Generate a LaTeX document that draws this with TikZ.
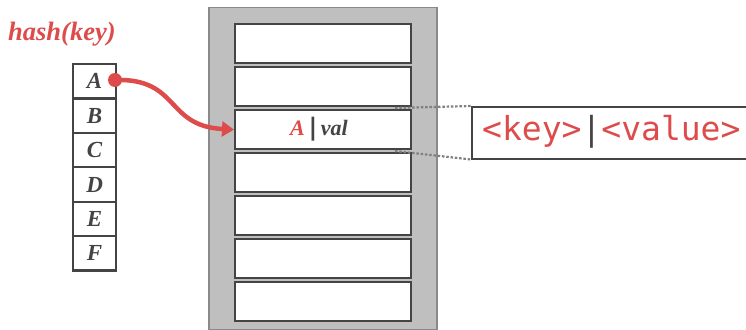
\documentclass[tikz,border=0pt]{standalone}
\usepackage{fontspec}
\newfontfamily\monofont{DejaVu Sans Mono}
\newfontfamily\labfont{Liberation Serif}
\newfontfamily\barfont{DejaVu Sans}
\usetikzlibrary{arrows.meta}
\definecolor{hred}{HTML}{DE4B4B}
\definecolor{hgray}{HTML}{444444}
\definecolor{pagefill}{HTML}{BFBFBF}
\definecolor{pageedge}{HTML}{8A8A8A}
\tikzset{
  cell/.style={draw=hgray, line width=2.2pt, fill=white, minimum width=43pt, minimum height=34.4pt, inner sep=0pt, anchor=north west, font=\labfont\fontsize{23}{23}\selectfont\bfseries\itshape, text=hgray},
  slot/.style={draw=hgray, line width=2.2pt, fill=white, minimum width=176pt, minimum height=39pt, inner sep=0pt, anchor=north west},
  linkarrow/.style={draw=hred, line width=4.5pt, -{Triangle[length=12pt,width=15pt]}},
  zoomline/.style={draw=gray, line width=2.2pt, dash pattern=on 2.5pt off 1.8pt},
}
\begin{document}
\begin{tikzpicture}[x=1pt,y=-1pt]
\useasboundingbox (0,0) rectangle (746,329);
% title
\node[anchor=base west, inner sep=0pt, text=hred, font=\labfont\fontsize{26.5}{26.5}\selectfont\bfseries\itshape] (title) at (8,41) {hash(key)};
% hash array
\foreach \l [count=\i from 0] in {A,B,C,D,E,F} {
  \node[cell] (c\l) at (72,{63+34.4*\i}) {\l};
}
% page
\node[draw=pageedge, line width=1.5pt, fill=pagefill, minimum width=228pt, minimum height=322pt, anchor=north west, inner sep=0pt] (page) at (208,7) {};
\foreach \i in {1,...,7} {
  \node[slot] (s\i) at (234,{23+43*(\i-1)}) {};
}
\node[font=\labfont\fontsize{22}{22}\selectfont\bfseries\itshape, text=hgray, inner sep=0pt] (kv) at (319,129) {\textcolor{hred}{A}\,{\barfont\fontsize{24}{24}\selectfont|}\,val};
% zoom box
\node[draw=hgray, line width=1.5pt, fill=white, minimum width=290pt, minimum height=52pt, anchor=north west, inner sep=0pt] (zoom) at (471,106) {};
\node[anchor=west, inner sep=0pt, text=hred, font=\monofont\fontsize{33}{33}\selectfont] (zt) at (482,132) {<key>\textcolor{hgray}{|}<value>};
\coordinate (d1) at (395,108);
\coordinate (d2) at (395,151);
\draw[zoomline] (d1) -- (zoom.north west);
\draw[zoomline] (d2) -- (zoom.south west);
% arrow
\coordinate (dot) at (115,80);
\fill[hred] (dot) circle (7pt);
\draw[linkarrow] (dot) .. controls (180,78) and (165,126) .. (s3.west);
\end{tikzpicture}
\end{document}
